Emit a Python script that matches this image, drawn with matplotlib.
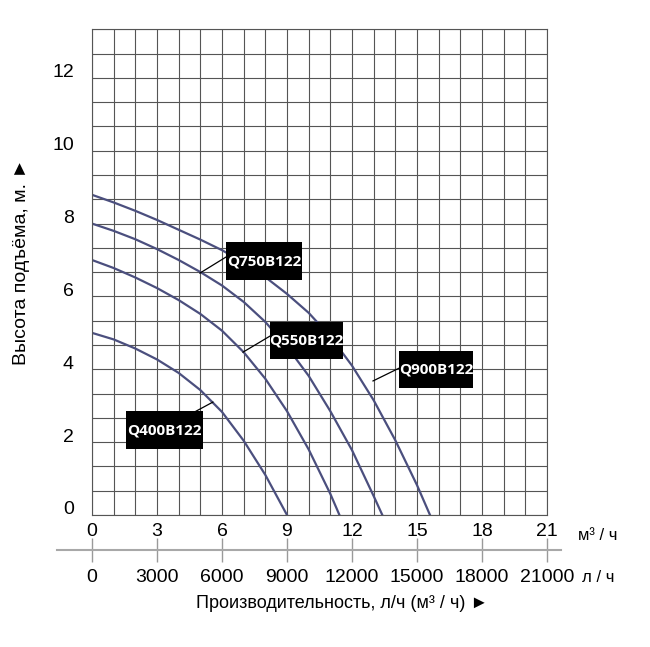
import numpy as np
import matplotlib
matplotlib.use("Agg")
import matplotlib.pyplot as plt
from matplotlib.patches import Rectangle
from matplotlib.transforms import ScaledTranslation

plt.rcParams['font.family'] = ['Liberation Sans', 'DejaVu Sans']

# pump curves: flow (m3/h) vs head (m)
q400_flow = [0, 1, 2, 3, 4, 5, 6, 7, 8, 9]
q400_head = [5.0, 4.82, 4.57, 4.27, 3.90, 3.43, 2.83, 2.04, 1.10, 0.0]

q550_flow = [0, 1, 2, 3, 4, 5, 6, 7, 8, 9, 10, 11, 11.42]
q550_head = [7.0, 6.78, 6.52, 6.23, 5.90, 5.52, 5.06, 4.47, 3.74, 2.85, 1.80, 0.58, 0.0]

q750_flow = [0, 1, 2, 3, 4, 5, 6, 7, 8, 9, 10, 11, 12, 13, 13.4]
q750_head = [8.0, 7.80, 7.57, 7.30, 7.00, 6.67, 6.30, 5.85, 5.30, 4.62, 3.82, 2.85, 1.78, 0.52, 0.0]

q900_flow = [0, 1, 2, 3, 4, 5, 6, 7, 8, 9, 10, 11, 12, 13, 14, 15, 15.6]
q900_head = [8.79, 8.58, 8.35, 8.10, 7.83, 7.56, 7.27, 6.93, 6.53, 6.07, 5.55, 4.90, 4.10, 3.15, 2.05, 0.82, 0.0]

curve_names = ['Q400B122', 'Q550B122', 'Q750B122', 'Q900B122']

m3h_ticks = [0, 3, 6, 9, 12, 15, 18, 21]
lph_ticks = [0, 3000, 6000, 9000, 12000, 15000, 18000, 21000]
head_ticks = [0, 2, 4, 6, 8, 10, 12]

fig = plt.figure(figsize=(6.5, 6.47), dpi=100)
ax = fig.add_axes([92 / 650, 132 / 647, 455 / 650, 485.7 / 647])

ax.set_xlim(0, 21)
ax.set_ylim(0, 40 / 3)

grid_col = '#555555'
ax.set_xticks(m3h_ticks)
ax.set_xticks(np.arange(0, 22, 1), minor=True)
ax.set_yticks(head_ticks)
ax.set_yticks(np.arange(0, 13.4, 2 / 3), minor=True)
ax.grid(which='both', color=grid_col, lw=0.8)
ax.set_axisbelow(True)
for s in ax.spines.values():
    s.set_color(grid_col)
    s.set_linewidth(0.8)
ax.tick_params(which='both', length=0)
ax.tick_params(axis='x', labelsize=14, pad=6)
ax.tick_params(axis='y', labelsize=14, pad=13)
ax.set_xticklabels([str(t) for t in m3h_ticks])
# head labels sit a little above their grid line
for lab in ax.get_yticklabels():
    lab.set_transform(lab.get_transform() + ScaledTranslation(0, 7 / 100, fig.dpi_scale_trans))

curve_col = '#4b4f7e'
for fl, hd in [(q400_flow, q400_head), (q550_flow, q550_head),
               (q750_flow, q750_head), (q900_flow, q900_head)]:
    ax.plot(fl, hd, color=curve_col, lw=1.6, solid_joinstyle='round')

# label boxes: (x0, y0, w, h) in data units, pointer start and end
boxes = {
    'Q400B122': ((1.57, 1.81, 3.55, 1.04), (4.8, 2.85), (5.58, 3.10)),
    'Q550B122': ((8.21, 4.28, 3.37, 1.02), (8.21, 4.91), (6.97, 4.47)),
    'Q750B122': ((6.18, 6.45, 3.51, 1.04), (6.18, 7.08), (4.98, 6.64)),
    'Q900B122': ((14.17, 3.48, 3.41, 1.02), (14.17, 4.03), (12.97, 3.68)),
}
for name in curve_names:
    (x0, y0, w, h), p0, p1 = boxes[name]
    ax.plot([p0[0], p1[0]], [p0[1], p1[1]], color='black', lw=0.9, zorder=4)
    ax.add_patch(Rectangle((x0, y0), w, h, facecolor='black', edgecolor='none', zorder=5))
    ax.text(x0 + w / 2, y0 + h / 2, name, color='white', fontsize=11,
            fontweight='bold', family=['Open Sans', 'DejaVu Sans'],
            ha='center', va='center', zorder=6)

# second flow scale in l/h
sec = ax.secondary_xaxis(-0.072, functions=(lambda x: x * 1000, lambda x: x / 1000))
sec.set_xticks(lph_ticks)
sec.set_xticklabels([str(t) for t in lph_ticks])
sec.spines['bottom'].set_visible(False)
sec.tick_params(direction='inout', length=17, width=1, color='#9a9a9a', labelsize=14, pad=5.5)
ax.plot([-0.077, 1.031], [-0.072, -0.072], transform=ax.transAxes, clip_on=False,
        color='#a8a8a8', lw=1.5)

fig.text(598 / 650, 1 - 535 / 647, 'м³ / ч', fontsize=12, ha='center', va='center')
fig.text(598 / 650, 1 - 578 / 647, 'л / ч', fontsize=12, ha='center', va='center')
fig.text(342 / 650, 1 - 604 / 647, 'Производительность, л/ч (м³ / ч) ►', fontsize=13,
         ha='center', va='center')
fig.text(22 / 650, 1 - 262 / 647, 'Высота подъёма, м. ►', fontsize=14, rotation=90,
         ha='center', va='center')

fig.savefig('out.png', dpi=100)
